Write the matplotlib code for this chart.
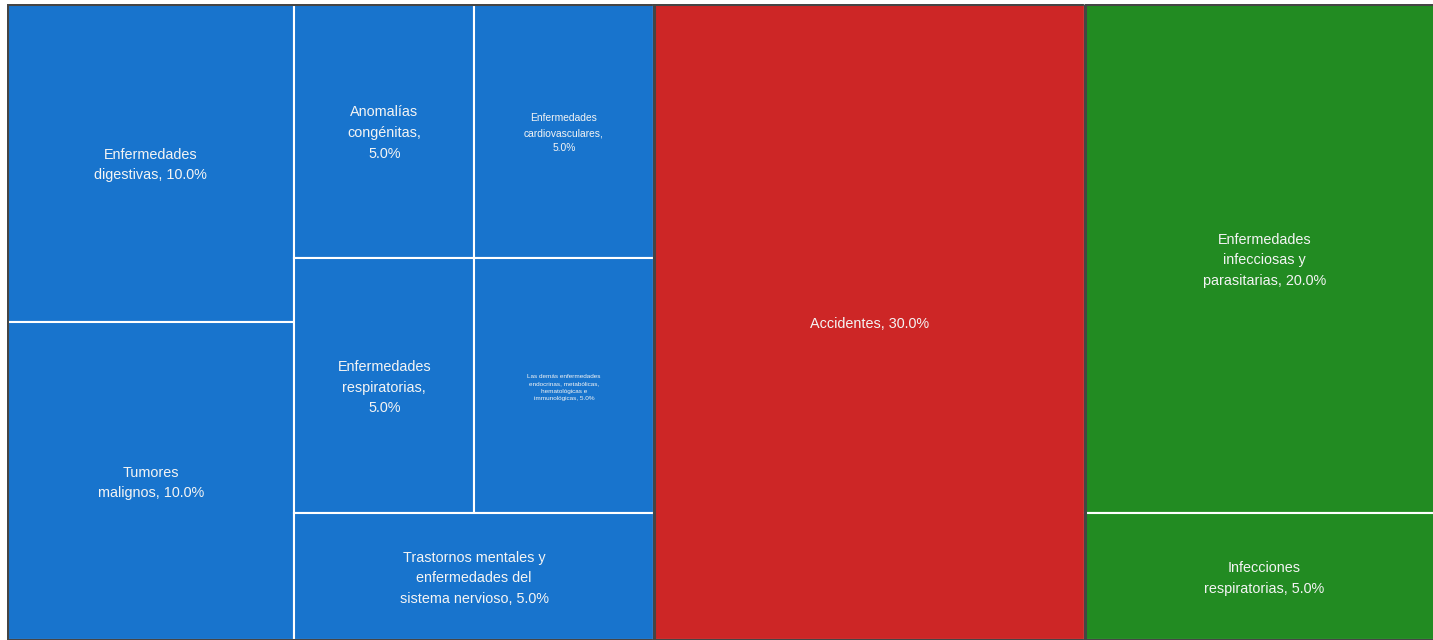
import matplotlib
matplotlib.use('Agg')
from matplotlib import pyplot as plt
from matplotlib.patches import Rectangle

plt.rcParams['font.family'] = ['Liberation Sans', 'DejaVu Sans']

# groups (top level of the treemap)
groups = ['No transmisibles', 'Accidentes', 'Transmisibles']
groupColors = ['#1874CD', '#CD2626', '#228B22']

# leaves, in drawing order inside each group
leafGroup = [0, 0, 0, 0, 0, 0, 0, 1, 2, 2]
leafNames = [
    'Enfermedades\ndigestivas',
    'Tumores\nmalignos',
    'Anomalías\ncongénitas,\n',
    'Enfermedades\ncardiovasculares,\n',
    'Enfermedades\nrespiratorias,\n',
    'Las demás enfermedades\nendocrinas, metabólicas,\nhematológicas e\nimmunológicas',
    'Trastornos mentales y\nenfermedades del\nsistema nervioso',
    'Accidentes',
    'Enfermedades\ninfecciosas y\nparasitarias',
    'Infecciones\nrespiratorias',
]
leafValues = [10.0, 10.0, 5.0, 5.0, 5.0, 5.0, 5.0, 30.0, 20.0, 5.0]

# text size per leaf (pt)
fontSizes = [10.35, 10.35, 10.35, 7.4, 10.35, 4.6, 10.35, 10.35, 10.35, 10.35]

W, H = 1437.0, 636.0


def worst(row, side):
    s = sum(row)
    return max(max(side * side * r / (s * s), s * s / (side * side * r)) for r in row)


def squarify(values, x, y, w, h):
    total = sum(values)
    vals = [v * w * h / total for v in values]
    rects = []
    while vals:
        short = min(w, h)
        row = [vals[0]]
        i = 1
        while i < len(vals) and worst(row + [vals[i]], short) <= worst(row, short):
            row.append(vals[i])
            i += 1
        s = sum(row)
        if w >= h:
            cw = s / h
            yy = y
            for v in row:
                rh = v / cw
                rects.append((x, yy, cw, rh))
                yy += rh
            x += cw
            w -= cw
        else:
            rh = s / w
            xx = x
            for v in row:
                cw = v / rh
                rects.append((xx, y, cw, rh))
                xx += cw
            y += rh
            h -= rh
        vals = vals[i:]
    return rects


fig = plt.figure(figsize=(14.33, 6.4), dpi=100)
fig.patch.set_facecolor('white')
ax = fig.add_axes([7 / 1433., 0.0, 1437 / 1433., 636 / 640.])
ax.set_xlim(0, W)
ax.set_ylim(H, 0)
ax.axis('off')

groupValues = [sum(v for v, g in zip(leafValues, leafGroup) if g == k) for k in range(len(groups))]
groupRects = squarify(groupValues, 0, 0, W, H)
total = sum(leafValues)

for k, (gx, gy, gw, gh) in enumerate(groupRects):
    idx = [i for i, g in enumerate(leafGroup) if g == k]
    rects = squarify([leafValues[i] for i in idx], gx, gy, gw, gh)
    for i, (x, y, w, h) in zip(idx, rects):
        ax.add_patch(Rectangle((x, y), w, h, facecolor=groupColors[k],
                               edgecolor='white', linewidth=1.5))
        pct = 100.0 * leafValues[i] / total
        sep = '' if leafNames[i].endswith('\n') else ', '
        ax.text(x + w / 2, y + h / 2 + 2, '%s%s%.1f%%' % (leafNames[i], sep, pct),
                ha='center', va='center', color='#f4f4f4',
                fontsize=fontSizes[i], linespacing=1.62)
    ax.add_patch(Rectangle((gx, gy), gw, gh, facecolor='none',
                           edgecolor='#454545', linewidth=2.2))

fig.savefig('out.png', dpi=100)
